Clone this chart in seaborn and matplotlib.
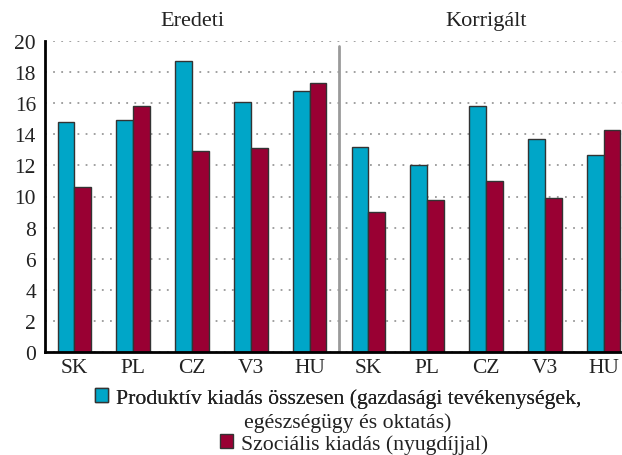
import numpy as np
import pandas as pd
import matplotlib
matplotlib.use("Agg")
import matplotlib.pyplot as plt
from matplotlib.patches import Patch
import seaborn as sns

groups = ["Eredeti", "Korrigált"]
countries = ["SK", "PL", "CZ", "V3", "HU"]
series = [
    "Produktív kiadás összesen (gazdasági tevékenységek,",
    "Szociális kiadás (nyugdíjjal)",
]
# values per group, in country order
productive = {
    "Eredeti": [14.8, 14.9, 18.7, 16.1, 16.8],
    "Korrigált": [13.2, 12.0, 15.8, 13.7, 12.7],
}
social = {
    "Eredeti": [10.6, 15.8, 12.9, 13.1, 17.3],
    "Korrigált": [9.0, 9.8, 11.0, 9.9, 14.3],
}
second_line = "egészségügy és oktatás)"

blue = "#00a6c8"
red = "#990033"

rows = []
for g in groups:
    for i, c in enumerate(countries):
        key = f"{g} {c}"
        rows.append({"key": key, "series": series[0], "value": productive[g][i]})
        rows.append({"key": key, "series": series[1], "value": social[g][i]})
df = pd.DataFrame(rows)
order = [f"{g} {c}" for g in groups for c in countries]

sns.set_style("white")
plt.rcParams["font.family"] = ["Liberation Serif", "DejaVu Serif"]
plt.rcParams["font.size"] = 15.5
txt_color = "#222222"

fig = plt.figure(figsize=(6.22, 4.56), dpi=100)
ax = fig.add_axes([45 / 622, 103 / 456, 588 / 622, 311 / 456])

sns.barplot(data=df, x="key", y="value", hue="series", order=order,
            hue_order=series, palette=[blue, red], width=0.57, saturation=1,
            edgecolor="#333333", linewidth=1, legend=False, ax=ax, zorder=3)

ax.set_xlim(-0.5, len(order) - 0.5)
ax.set_ylim(0, 20)
ax.set_yticks(np.arange(0, 21, 2))
ax.yaxis.grid(True, linestyle=(0, (1, 3.5)), color="#999999", linewidth=1.3, zorder=0)
ax.xaxis.grid(False)
ax.set_xlabel("")
ax.set_ylabel("")

# labels at category centres, tick marks between categories
ax.set_xticks(np.arange(len(order)))
ax.set_xticklabels(countries * len(groups), color=txt_color)
ax.set_xticks(np.arange(-0.5, len(order), 1), minor=True)
ax.tick_params(axis="x", which="major", length=0, pad=4, labelsize=15.5)
ax.tick_params(axis="x", which="minor", length=7, width=1.8, direction="inout", color="black")
ax.tick_params(axis="y", length=7, width=1.8, direction="inout", color="black",
               pad=3, labelsize=15.5, labelcolor=txt_color)

for s in ["top", "right"]:
    ax.spines[s].set_visible(False)
for s in ["left", "bottom"]:
    ax.spines[s].set_color("black")
    ax.spines[s].set_linewidth(2)
    ax.spines[s].set_zorder(4)

ax.axvline(4.5, ymin=0, ymax=0.985, color="#9a9a9a", linewidth=2, zorder=4)

trans = ax.get_xaxis_transform()
ax.text(2, 1.065, groups[0], transform=trans, ha="center", va="center",
        fontsize=16, color=txt_color)
ax.text(7, 1.065, groups[1], transform=trans, ha="center", va="center",
        fontsize=16, color=txt_color)

# legend, each line centred
leg_kw = dict(frameon=False, fontsize=15.7, handlelength=0.6, handleheight=0.6,
              handletextpad=0.35, borderpad=0, labelcolor=txt_color)
leg1 = fig.legend(handles=[Patch(facecolor=blue, edgecolor="#333333")],
                  labels=[series[0]], loc="center",
                  bbox_to_anchor=(338 / 622, 1 - 399 / 456), **leg_kw)
fig.text(348 / 622, 1 - 423 / 456, second_line, ha="center", va="center",
         fontsize=15.7, color=txt_color)
fig.legend(handles=[Patch(facecolor=red, edgecolor="#333333")],
           labels=[series[1]], loc="center",
           bbox_to_anchor=(354 / 622, 1 - 445 / 456), **leg_kw)
fig.add_artist(leg1)

fig.savefig("out.png", dpi=100)
